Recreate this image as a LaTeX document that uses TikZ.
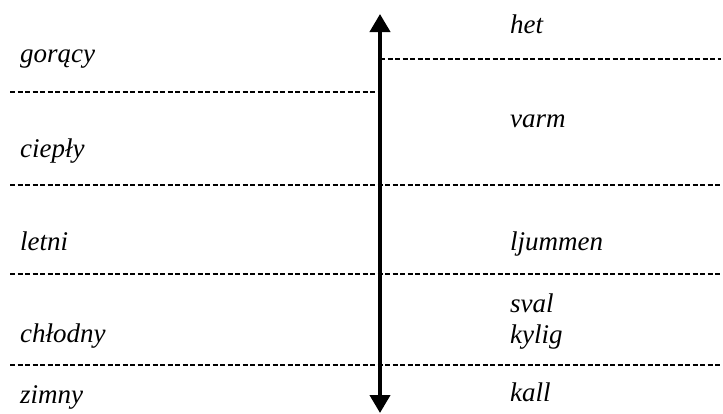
\documentclass[tikz,border=0pt]{standalone}
\usepackage{fontspec}
\setmainfont{Liberation Serif}
\usetikzlibrary{arrows.meta}
\begin{document}
\begin{tikzpicture}[x=1pt, y=-1pt,
    every node/.style={anchor=base west, inner sep=0pt, font=\fontsize{27}{31}\selectfont\itshape},
    sep/.style={line width=1.3pt, dash pattern=on 5pt off 2.5pt},
    scaleline/.style={line width=4pt, {Triangle[length=18pt,width=20pt]}-{Triangle[length=18pt,width=20pt]}}
]
\useasboundingbox (0,0) rectangle (723,413);

% scale
\coordinate (top) at (380,14);
\coordinate (bot) at (380,413);
\draw[scaleline] (bot) -- (top);

% separators
\coordinate (r1) at (380,59);   \coordinate (e1) at (721,59);
\coordinate (l2) at (10,92);    \coordinate (e2) at (380,92);
\coordinate (l3) at (10,185);   \coordinate (e3) at (721,185);
\coordinate (l4) at (10,274);   \coordinate (e4) at (721,274);
\coordinate (l5) at (10,365);   \coordinate (e5) at (721,365);
\draw[sep] (r1) -- (e1);
\draw[sep] (l2) -- (e2);
\draw[sep] (l3) -- (e3);
\draw[sep] (l4) -- (e4);
\draw[sep] (l5) -- (e5);

% polish
\node (goracy) at (20,62) {gorący};
\node (cieply) at (20,157) {ciepły};
\node (letni) at (20,250) {letni};
\node (chlodny) at (20,342) {chłodny};
\node (zimny) at (20,403) {zimny};

% swedish
\node (het) at (510,33) {het};
\node (varm) at (510,127) {varm};
\node (ljummen) at (510,250) {ljummen};
\node (sval) at (510,312) {sval};
\node (kylig) at (510,343) {kylig};
\node (kall) at (510,401) {kall};

\end{tikzpicture}
\end{document}
